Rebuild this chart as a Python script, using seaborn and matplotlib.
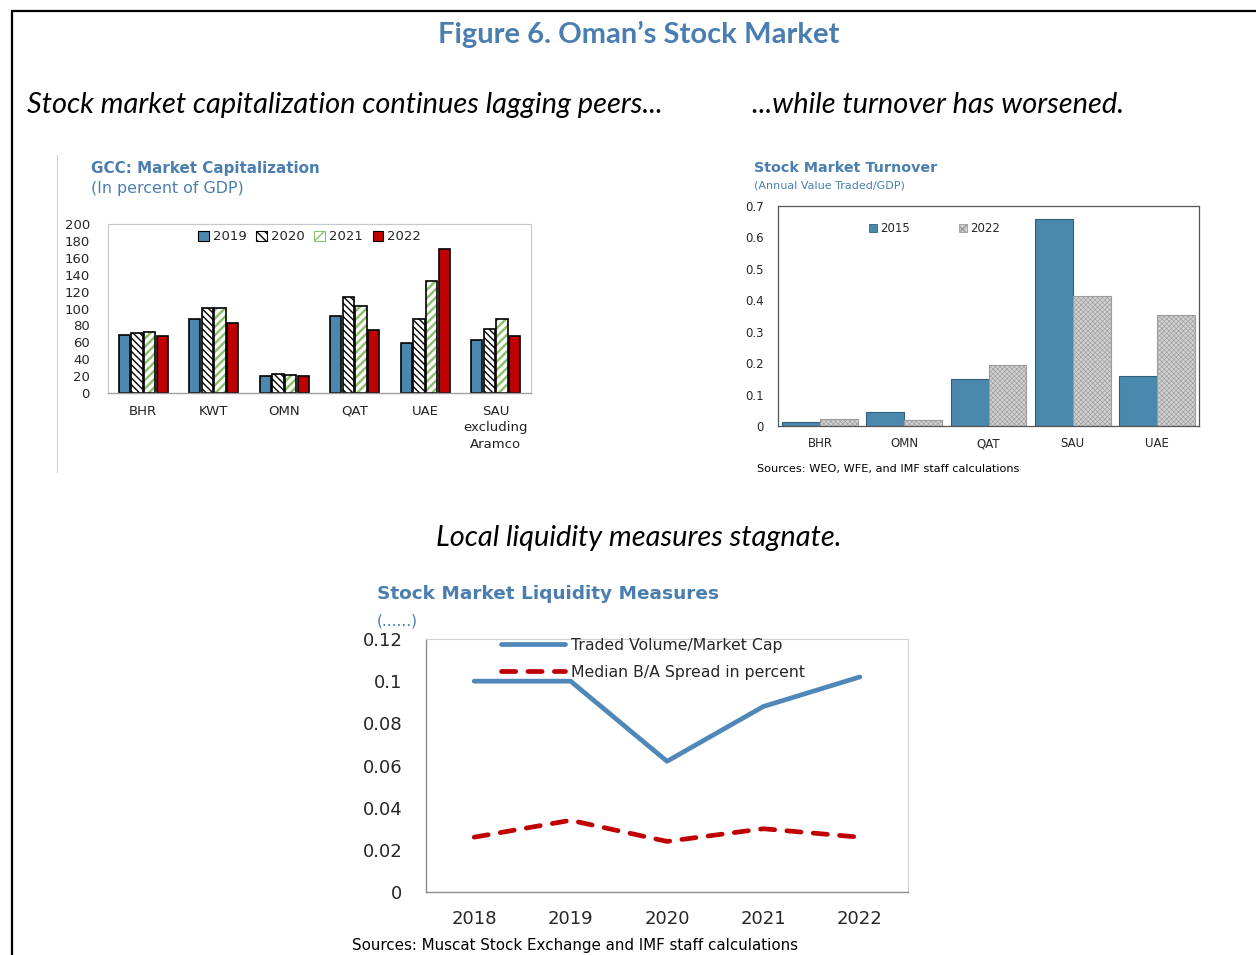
import numpy as np
import pandas as pd
import matplotlib
matplotlib.use("Agg")
import matplotlib.pyplot as plt
import seaborn as sns
from matplotlib.patches import Patch, Rectangle
from matplotlib.lines import Line2D

# ---------------- data ----------------
cap_countries = ["BHR", "KWT", "OMN", "QAT", "UAE", "SAU\nexcluding\nAramco"]
cap_years = ["2019", "2020", "2021", "2022"]
cap_2019 = [69, 87, 20, 91, 59, 63]
cap_2020 = [71, 100, 22, 114, 87, 76]
cap_2021 = [72, 100, 21, 103, 133, 88]
cap_2022 = [68, 83, 20, 74, 171, 68]

turn_countries = ["BHR", "OMN", "QAT", "SAU", "UAE"]
turn_years = ["2015", "2022"]
turn_2015 = [0.012, 0.045, 0.150, 0.660, 0.160]
turn_2022 = [0.022, 0.020, 0.195, 0.413, 0.353]

liq_years = ["2018", "2019", "2020", "2021", "2022"]
liq_labels = ["Traded Volume/Market Cap", "Median B/A Spread in percent"]
liq_volume = [0.100, 0.100, 0.062, 0.088, 0.102]
liq_spread = [0.026, 0.034, 0.024, 0.030, 0.026]

# ---------------- style ----------------
sns.set_style("white")
plt.rcParams["font.family"] = ["DejaVu Sans"]
plt.rcParams["hatch.linewidth"] = 1.0

BLUE_T = "#4a7eb0"
BAR_BLUE = "#4a89ad"
RED = "#c00000"
GREEN = "#8dc06b"
GRAY_F = "#d2d2d2"
GRAY_H = "#9c9c9c"

W, H = 1256, 955
fig = plt.figure(figsize=(W / 100, H / 100), dpi=100)


def fx(px):
    return px / W


def fy(py):
    return 1 - py / H


def axes_px(l, t, r, b):
    return fig.add_axes([fx(l), fy(b), (r - l) / W, (b - t) / H])


# frame lines
fig.add_artist(Line2D([fx(12), 1], [fy(11), fy(11)], transform=fig.transFigure, color="black", lw=1.6))
fig.add_artist(Line2D([fx(12), fx(12)], [fy(11), 0], transform=fig.transFigure, color="black", lw=1.6))
fig.add_artist(Line2D([fx(57), fx(57)], [fy(155), fy(472)], transform=fig.transFigure, color="#d0d0d0", lw=0.8))

# headings
fig.text(fx(639), fy(34), "Figure 6. Oman\u2019s Stock Market", ha="center", va="center",
         family=["Lato", "DejaVu Sans"], fontweight="bold", fontsize=21, color=BLUE_T)
fig.text(fx(27), fy(105), "Stock market capitalization continues lagging peers...", ha="left", va="center",
         family=["Lato", "DejaVu Sans"], style="italic", fontsize=20.9, color="black")
fig.text(fx(752), fy(105), "...while turnover has worsened.", ha="left", va="center",
         family=["Lato", "DejaVu Sans"], style="italic", fontsize=20.9, color="black")
fig.text(fx(639), fy(538), "Local liquidity measures stagnate.", ha="center", va="center",
         family=["Lato", "DejaVu Sans"], style="italic", fontsize=20.9, color="black")

# ---------------- chart 1: market capitalization ----------------
ax1 = axes_px(108, 224, 531, 393)
df1 = pd.DataFrame({
    "country": np.repeat(cap_countries, len(cap_years)).tolist(),
    "year": cap_years * len(cap_countries),
    "value": [v for vals in zip(cap_2019, cap_2020, cap_2021, cap_2022) for v in vals],
})
pal1 = {"2019": BAR_BLUE, "2020": "white", "2021": "white", "2022": RED}
sns.barplot(data=df1, x="country", y="value", hue="year", hue_order=cap_years, order=cap_countries,
            palette=pal1, saturation=1, width=0.72, gap=0.1, edgecolor="black", linewidth=1.2,
            legend=False, ax=ax1)
conts = ax1.containers
for p in conts[1].patches:
    p.set_hatch("\\\\\\\\\\")
for p in conts[2].patches:
    p.set_hatch("////")
    p.set_edgecolor(GREEN)
    p.set_linewidth(0)
    if hasattr(p, "set_hatch_linewidth"):
        p.set_hatch_linewidth(1.8)
    ax1.add_patch(Rectangle(p.get_xy(), p.get_width(), p.get_height(), fill=False,
                            edgecolor="black", lw=1.2, zorder=p.get_zorder() + 0.1))
ax1.set_ylim(0, 200)
ax1.set_yticks(np.arange(0, 201, 20))
ax1.set_xlim(-0.5, len(cap_countries) - 0.5)
ax1.set_xlabel("")
ax1.set_ylabel("")
ax1.tick_params(axis="y", direction="in", length=4, pad=13, labelsize=9.5, color="#888888")
ax1.tick_params(axis="x", which="major", length=0, pad=8.5, labelsize=9.5)
ax1.set_xticks(np.arange(0.5, len(cap_countries) - 0.5, 1), minor=True)
ax1.tick_params(axis="x", which="minor", direction="in", length=4, color="#aaaaaa")
for lab in ax1.get_xticklabels():
    lab.set_linespacing(1.35)
    lab.set_color("#222222")
for s in ["top", "right", "left"]:
    ax1.spines[s].set_color("#c8c8c8")
    ax1.spines[s].set_linewidth(0.8)
ax1.spines["bottom"].set_color("#a0a0a0")
ax1.spines["bottom"].set_linewidth(1.0)
leg_h1 = [Patch(facecolor=BAR_BLUE, edgecolor="black", lw=0.8),
          Patch(facecolor="white", edgecolor="black", hatch="\\\\\\\\", lw=0.8),
          Patch(facecolor="white", edgecolor=GREEN, hatch="///", lw=0.8),
          Patch(facecolor=RED, edgecolor="black", lw=0.8)]
ax1.legend(leg_h1, cap_years, loc="upper left", bbox_to_anchor=(0.213, 0.962), ncol=4, frameon=False,
           fontsize=9.5, handlelength=0.8, handleheight=0.8, handletextpad=0.3, columnspacing=0.75,
           borderpad=0, borderaxespad=0)
fig.text(fx(91), fy(168), "GCC: Market Capitalization", ha="left", va="center", fontsize=10.9,
         fontweight="bold", color=BLUE_T)
fig.text(fx(91), fy(188), "(In percent of GDP)", ha="left", va="center", fontsize=11.4, color=BLUE_T)

# ---------------- chart 2: turnover ----------------
ax2 = axes_px(778, 206, 1199, 426)
df2 = pd.DataFrame({
    "country": np.repeat(turn_countries, len(turn_years)).tolist(),
    "year": turn_years * len(turn_countries),
    "value": [v for vals in zip(turn_2015, turn_2022) for v in vals],
})
pal2 = {"2015": BAR_BLUE, "2022": GRAY_F}
sns.barplot(data=df2, x="country", y="value", hue="year", hue_order=turn_years, order=turn_countries,
            palette=pal2, saturation=1, width=0.9, gap=0, edgecolor="#2f5f7e", linewidth=0.8,
            legend=False, ax=ax2)
for p in ax2.containers[1].patches:
    p.set_hatch("xxxxxxx")
    p.set_edgecolor(GRAY_H)
    if hasattr(p, "set_hatch_linewidth"):
        p.set_hatch_linewidth(0.45)
ax2.set_ylim(0, 0.7)
ax2.set_yticks(np.arange(0, 0.71, 0.1))
ax2.set_yticklabels(["0", "0.1", "0.2", "0.3", "0.4", "0.5", "0.6", "0.7"])
ax2.set_xlim(-0.5, len(turn_countries) - 0.5)
ax2.set_xlabel("")
ax2.set_ylabel("")
ax2.tick_params(axis="y", direction="in", length=4, pad=10, labelsize=8.5, color="#555555")
ax2.tick_params(axis="x", which="major", length=0, pad=8, labelsize=8.5)
ax2.set_xticks(np.arange(0.5, len(turn_countries) - 0.5, 1), minor=True)
ax2.tick_params(axis="x", which="minor", direction="in", length=4, color="#555555")
for s in ax2.spines.values():
    s.set_color("#555555")
    s.set_linewidth(0.9)
leg_h2 = [Patch(facecolor=BAR_BLUE, edgecolor="#2f5f7e", lw=0.6),
          Patch(facecolor=GRAY_F, edgecolor=GRAY_H, hatch="xxxx", lw=0.6)]
ax2.legend(leg_h2, turn_years, loc="upper left", bbox_to_anchor=(0.215, 0.925), ncol=2, frameon=False,
           fontsize=8.5, handlelength=0.7, handleheight=0.7, handletextpad=0.25, columnspacing=4.2,
           borderpad=0, borderaxespad=0)
fig.text(fx(754), fy(168), "Stock Market Turnover", ha="left", va="center", fontsize=10.3,
         fontweight="bold", color=BLUE_T)
fig.text(fx(754), fy(186), "(Annual Value Traded/GDP)", ha="left", va="center", fontsize=8, color=BLUE_T)
fig.text(fx(757), fy(469), "Sources: WEO, WFE, and IMF staff calculations", ha="left", va="center",
         fontsize=8.1, color="black")

# ---------------- chart 3: liquidity ----------------
ax3 = axes_px(426, 639, 908, 892)
df3 = pd.DataFrame({
    "year": liq_years * 2,
    "series": [liq_labels[0]] * len(liq_years) + [liq_labels[1]] * len(liq_years),
    "value": liq_volume + liq_spread,
})
DASH = (3.0, 2.6)
sns.lineplot(data=df3, x="year", y="value", hue="series", style="series", hue_order=liq_labels,
             style_order=liq_labels, palette={liq_labels[0]: "#4f87b8", liq_labels[1]: RED},
             dashes={liq_labels[0]: "", liq_labels[1]: DASH}, linewidth=3.4, ax=ax3, legend=False)
for ln in ax3.lines:
    ln.set_dash_capstyle("round")
    ln.set_solid_capstyle("round")
ax3.set_ylim(0, 0.12)
ax3.set_yticks(np.arange(0, 0.121, 0.02))
ax3.set_yticklabels(["0", "0.02", "0.04", "0.06", "0.08", "0.1", "0.12"])
ax3.set_xlim(-0.5, len(liq_years) - 0.5)
ax3.set_xlabel("")
ax3.set_ylabel("")
ax3.tick_params(axis="y", direction="in", length=4, pad=17, labelsize=13, color="#888888")
ax3.tick_params(axis="x", which="major", length=0, pad=13, labelsize=13)
ax3.set_xticks(np.arange(0.5, len(liq_years) - 0.5, 1), minor=True)
ax3.tick_params(axis="x", which="minor", direction="in", length=5, color="#888888")
for s in ["top", "right"]:
    ax3.spines[s].set_color("#d0d0d0")
    ax3.spines[s].set_linewidth(0.8)
for s in ["bottom", "left"]:
    ax3.spines[s].set_color("#8a8a8a")
    ax3.spines[s].set_linewidth(1.0)
leg_h3 = [Line2D([], [], color="#4f87b8", lw=3.4, solid_capstyle="round"),
          Line2D([], [], color=RED, lw=3.4, dashes=DASH, dash_capstyle="round")]
ax3.legend(leg_h3, liq_labels, loc="upper left", bbox_to_anchor=(0.155, 1.004), frameon=False,
           fontsize=11.3, handlelength=4.1, handletextpad=0.35, labelspacing=0.75,
           borderpad=0, borderaxespad=0)
fig.text(fx(377), fy(594), "Stock Market Liquidity Measures", ha="left", va="center", fontsize=13.3,
         fontweight="bold", color=BLUE_T)
fig.text(fx(377), fy(621), "(......)", ha="left", va="center", fontsize=11, color=BLUE_T)
fig.text(fx(352), fy(945), "Sources: Muscat Stock Exchange and IMF staff calculations", ha="left",
         va="center", fontsize=10.9, color="black")

fig.savefig("out.png", dpi=100)
